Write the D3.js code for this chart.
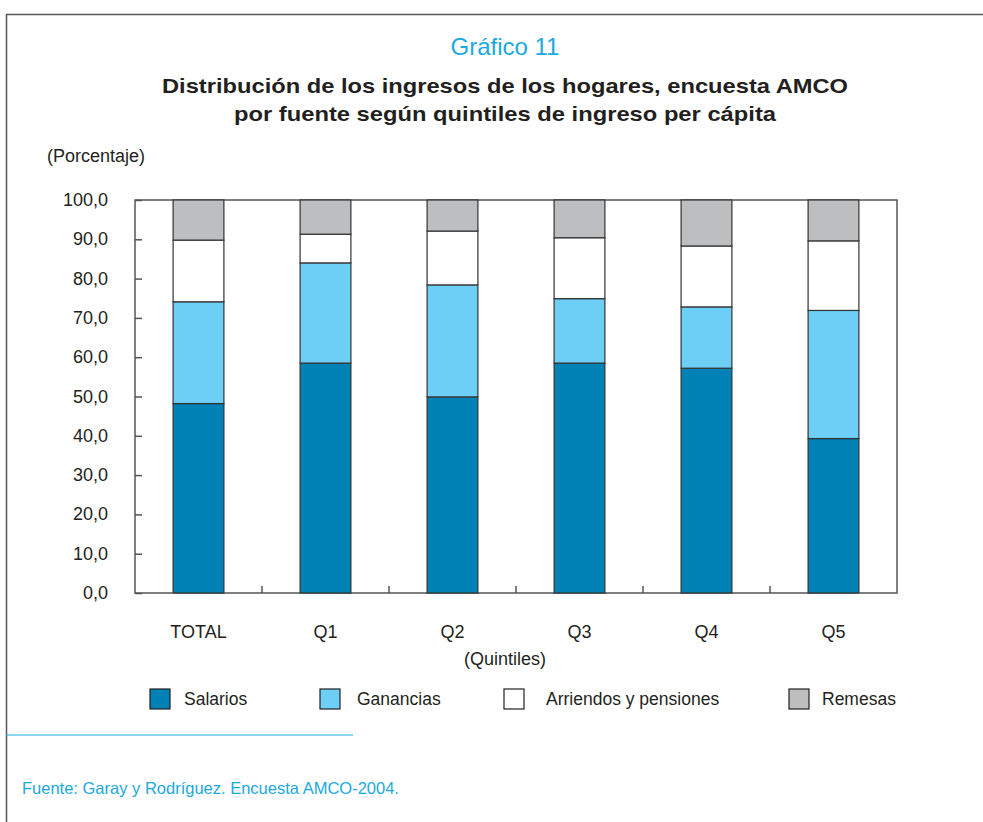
<!DOCTYPE html>
<meta charset="utf-8">
<style>
  body { margin: 0; background: #fff; }
  text { font-family: "Liberation Sans", Arial, sans-serif; }
</style>
<body>
<script src="https://d3js.org/d3.v7.min.js"></script>
<script>
  // data
  const categories = ["TOTAL", "Q1", "Q2", "Q3", "Q4", "Q5"];
  const seriesNames = ["Salarios", "Ganancias", "Arriendos y pensiones", "Remesas"];
  const salarios   = [48.2, 58.5, 49.9, 58.5, 57.2, 39.3];
  const ganancias  = [25.9, 25.5, 28.5, 16.4, 15.6, 32.6];
  const arriendos  = [15.7,  7.3, 13.7, 15.5, 15.5, 17.7];
  const remesas    = [10.2,  8.7,  7.9,  9.6, 11.7, 10.4];
  const yTicks = [0, 10, 20, 30, 40, 50, 60, 70, 80, 90, 100];

  const colors = ["#0082b7", "#6dcff6", "#ffffff", "#bcbec0"];
  const keys = ["sal", "gan", "arr", "rem"];

  const width = 983, height = 822;
  const margin = {left: 135, right: 86, top: 200, bottom: 229};

  const svg = d3.select("body").append("svg")
      .attr("width", width)
      .attr("height", height);

  // outer frame
  svg.append("path")
      .attr("d", "M6.5,822 V14.5 H983")
      .attr("fill", "none")
      .attr("stroke", "#555")
      .attr("stroke-width", 1.5);

  // titles
  svg.append("text").attr("x", 505).attr("y", 55)
      .attr("text-anchor", "middle")
      .style("font-size", "24px").attr("fill", "#1ba9e1")
      .text("Gráfico 11");
  svg.append("text").attr("x", 505).attr("y", 93)
      .attr("text-anchor", "middle")
      .attr("textLength", 686).attr("lengthAdjust", "spacingAndGlyphs")
      .style("font-size", "21px").style("font-weight", "bold").attr("fill", "#231f20")
      .text("Distribución de los ingresos de los hogares, encuesta AMCO");
  svg.append("text").attr("x", 505).attr("y", 121)
      .attr("text-anchor", "middle")
      .attr("textLength", 542).attr("lengthAdjust", "spacingAndGlyphs")
      .style("font-size", "21px").style("font-weight", "bold").attr("fill", "#231f20")
      .text("por fuente según quintiles de ingreso per cápita");

  svg.append("text").attr("x", 47).attr("y", 162)
      .style("font-size", "18px").attr("fill", "#231f20")
      .text("(Porcentaje)");

  const table = categories.map((c, i) => ({
    cat: c, sal: salarios[i], gan: ganancias[i], arr: arriendos[i], rem: remesas[i]
  }));
  const stacked = d3.stack().keys(keys)(table);

  const x = d3.scaleBand()
      .domain(categories)
      .range([margin.left, width - margin.right])
      .paddingInner(0.6).paddingOuter(0.3);
  const xb = d3.scaleBand().domain(categories).range([margin.left, width - margin.right]);
  const y = d3.scaleLinear().domain([0, 100]).range([height - margin.bottom, margin.top]);

  // plot frame
  svg.append("rect")
      .attr("x", margin.left).attr("y", margin.top)
      .attr("width", width - margin.left - margin.right)
      .attr("height", height - margin.top - margin.bottom)
      .attr("fill", "none").attr("stroke", "#555").attr("stroke-width", 1.5);

  // y axis, ticks pointing inward
  const yAxis = svg.append("g")
      .attr("transform", `translate(${margin.left},0)`)
      .call(d3.axisRight(y).tickValues(yTicks).tickSize(7).tickFormat(""));
  yAxis.select(".domain").remove();
  yAxis.selectAll("line").attr("stroke", "#555").attr("stroke-width", 1.5);
  svg.append("g").selectAll("text").data(yTicks).join("text")
      .attr("x", margin.left - 27).attr("y", d => y(d) + 6)
      .attr("text-anchor", "end")
      .style("font-size", "18px").attr("fill", "#231f20")
      .text(d => d3.format(".1f")(d).replace(".", ","));

  // bottom ticks at band boundaries
  svg.append("g").selectAll("line").data(categories.slice(1)).join("line")
      .attr("x1", d => xb(d)).attr("x2", d => xb(d))
      .attr("y1", y(0)).attr("y2", y(0) - 7)
      .attr("stroke", "#555").attr("stroke-width", 1.5);

  // bars
  svg.append("g").selectAll("g").data(stacked).join("g")
      .attr("fill", (d, i) => colors[i])
    .selectAll("rect").data(d => d).join("rect")
      .attr("x", d => x(d.data.cat))
      .attr("y", d => y(d[1]))
      .attr("width", x.bandwidth())
      .attr("height", d => y(d[0]) - y(d[1]))
      .attr("stroke", "#333").attr("stroke-width", 1.2);

  // x labels
  svg.append("g").selectAll("text").data(categories).join("text")
      .attr("x", d => xb(d) + xb.bandwidth() / 2).attr("y", 638)
      .attr("text-anchor", "middle")
      .style("font-size", "18px").attr("fill", "#231f20")
      .text(d => d);
  svg.append("text").attr("x", 505).attr("y", 665)
      .attr("text-anchor", "middle")
      .style("font-size", "18px").attr("fill", "#231f20")
      .text("(Quintiles)");

  // legend
  const legendX = [150, 320, 504, 789];
  const leg = svg.append("g").selectAll("g").data(seriesNames).join("g")
      .attr("transform", (d, i) => `translate(${legendX[i]},689)`);
  leg.append("rect").attr("width", 20).attr("height", 20)
      .attr("fill", (d, i) => colors[i]).attr("stroke", "#231f20").attr("stroke-width", 1.2);
  leg.append("text").attr("x", (d, i) => [34, 37, 42, 33][i]).attr("y", 16)
      .style("font-size", "17.5px").attr("fill", "#231f20")
      .text(d => d);

  // source
  svg.append("line").attr("x1", 6).attr("x2", 353).attr("y1", 735).attr("y2", 735)
      .attr("stroke", "#1ba9e1").attr("stroke-width", 1.2);
  svg.append("text").attr("x", 22).attr("y", 794)
      .style("font-size", "16.5px").attr("fill", "#1ba9e1")
      .text("Fuente: Garay y Rodríguez. Encuesta AMCO-2004.");
</script>
</body>
